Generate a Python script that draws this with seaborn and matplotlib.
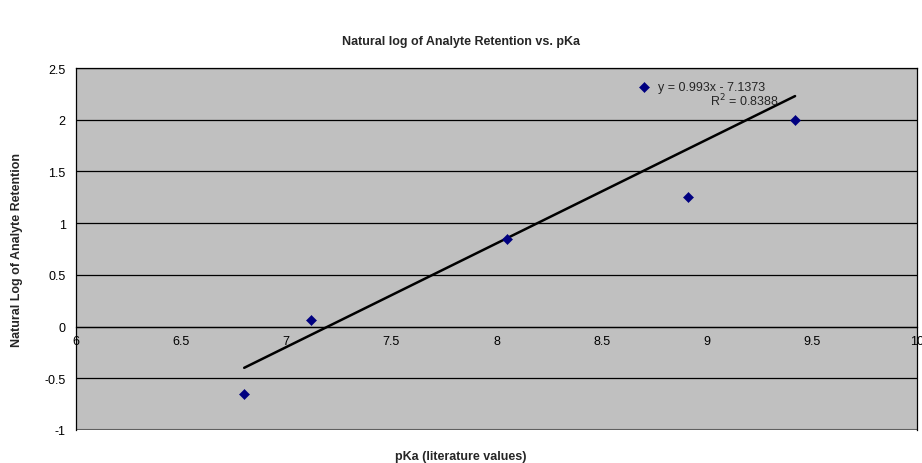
import seaborn as sns
import matplotlib.pyplot as plt
import numpy as np
import pandas as pd

pka = [6.8, 7.12, 8.05, 8.7, 8.91, 9.42]
ln_ret = [-0.65, 0.06, 0.85, 2.32, 1.25, 2.0]
xticks = [6, 6.5, 7, 7.5, 8, 8.5, 9, 9.5, 10]
yticks = [-1, -0.5, 0, 0.5, 1, 1.5, 2, 2.5]

sns.set_style('white')
plt.rcParams['font.family'] = ['Liberation Sans', 'DejaVu Sans']

df = pd.DataFrame({'pka': pka, 'ln': ln_ret})

fig = plt.figure(figsize=(9.22, 4.64), dpi=100)
ax = fig.add_axes([76 / 922, 1 - 431 / 464, 841 / 922, 362 / 464])
ax.set_facecolor('#C0C0C0')

for y in yticks[1:]:
    ax.axhline(y, color='black', lw=0.9, zorder=1)

sns.scatterplot(data=df, x='pka', y='ln', marker='D', s=26, color='#000080',
                edgecolor='#000080', ax=ax, zorder=3)

# linear trendline over data range
m, b = np.polyfit(pka, ln_ret, 1)
xs = np.array([min(pka), max(pka)])
ax.plot(xs, m * xs + b, color='black', lw=1.8, zorder=2)

ax.text(8.77, 2.32, 'y = 0.993x - 7.1373', fontsize=9, va='center')
ax.text(9.18, 2.19, 'R$^2$ = 0.8388', fontsize=9, va='center', ha='center')

ax.set_xlim(6, 10)
ax.set_ylim(-1, 2.5)
ax.set_xticks(xticks)
ax.set_xticklabels(['6', '6.5', '7', '7.5', '8', '8.5', '9', '9.5', '10'])
ax.set_yticks(yticks)
ax.set_yticklabels(['-1', '-0.5', '0', '0.5', '1', '1.5', '2', '2.5'])
ax.spines['bottom'].set_position(('data', 0))
for s in ax.spines.values():
    s.set_color('black')
    s.set_linewidth(0.9)
ax.axhline(-1, color='#606060', lw=1.5, zorder=1)
ax.tick_params(axis='both', direction='out', length=4, width=0.8, labelsize=9, colors='black')
ax.tick_params(axis='x', pad=2)
ax.set_xlabel('')
ax.set_ylabel('')

fig.text(0.5, 1 - 42 / 464, 'Natural log of Analyte Retention vs. pKa', ha='center',
         va='center', fontsize=9, fontweight='bold')
fig.text(0.5, 1 - 457 / 464, 'pKa (literature values)', ha='center', va='center',
         fontsize=9, fontweight='bold')
fig.text(17 / 922, 1 - 250 / 464, 'Natural Log of Analyte Retention', ha='center', va='center',
         rotation=90, fontsize=9, fontweight='bold')

fig.savefig('out.png', dpi=100)
